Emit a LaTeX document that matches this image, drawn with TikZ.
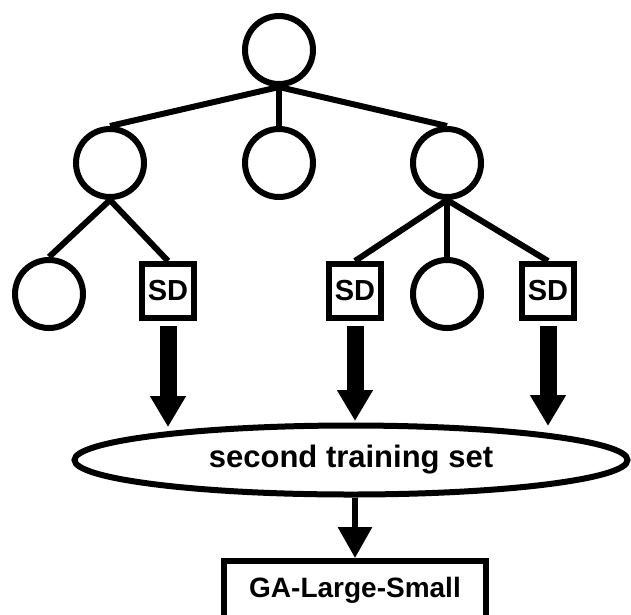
\documentclass[tikz,border=0pt]{standalone}
\usepackage{fontspec}
\setmainfont{Liberation Sans}
\usetikzlibrary{shapes.geometric,arrows.meta}
\begin{document}
\begin{tikzpicture}[x=1pt,y=-1pt,
  cnode/.style={circle,draw,line width=6pt,minimum size=68pt,inner sep=0pt},
  sdbox/.style={rectangle,draw,line width=6pt,minimum width=52pt,minimum height=54pt,inner sep=0pt,font=\fontsize{29}{30}\selectfont\bfseries},
  edge/.style={line width=6pt},
  bigarrow/.style={line width=17pt,-{Triangle[width=34pt,length=31pt]}},
  thinarrow/.style={line width=6pt,-{Triangle[width=33pt,length=31pt]}},
]
\useasboundingbox (0,0) rectangle (631,614);
% tree nodes
\node[cnode] (root) at (279,50) {};
\node[cnode] (l) at (110,163) {};
\node[cnode] (m) at (279,163) {};
\node[cnode] (r) at (447,163) {};
\node[cnode] (ll) at (49,294) {};
\node[sdbox] (sd1) at (168,291) {SD};
\node[sdbox] (sd2) at (355,291) {SD};
\node[cnode] (rm) at (447,294) {};
\node[sdbox] (sd3) at (548,291) {SD};
% tree edges
\draw[edge] (root.south) -- (l.north);
\draw[edge] (root.south) -- (m.north);
\draw[edge] (root.south) -- (r.north);
\draw[edge] (l.south) -- (ll.north);
\draw[edge] (l.south) -- (sd1.north);
\draw[edge] (r.south) -- (sd2.north);
\draw[edge] (r.south) -- (rm.north);
\draw[edge] (r.south) -- (sd3.north);
% training set
\node[ellipse,draw,line width=6pt,minimum width=553pt,minimum height=69pt,inner sep=0pt,font=\fontsize{31}{33}\selectfont\bfseries] (ts) at (351,460) {second training set};
\coordinate (t1) at (168,427);
\coordinate (t2) at (355,421);
\coordinate (t3) at (548,426);
\draw[bigarrow] ([yshift=-5pt]sd1.south) -- (t1);
\draw[bigarrow] ([yshift=-5pt]sd2.south) -- (t2);
\draw[bigarrow] ([yshift=-5pt]sd3.south) -- (t3);
% result box
\node[draw,line width=6pt,minimum width=262pt,minimum height=58pt,inner sep=0pt,font=\fontsize{28}{30}\selectfont\bfseries] (ga) at (355,590) {GA-Large-Small};
\draw[thinarrow] (ts.south -| ga.north) -- (ga.north);
\end{tikzpicture}
\end{document}
